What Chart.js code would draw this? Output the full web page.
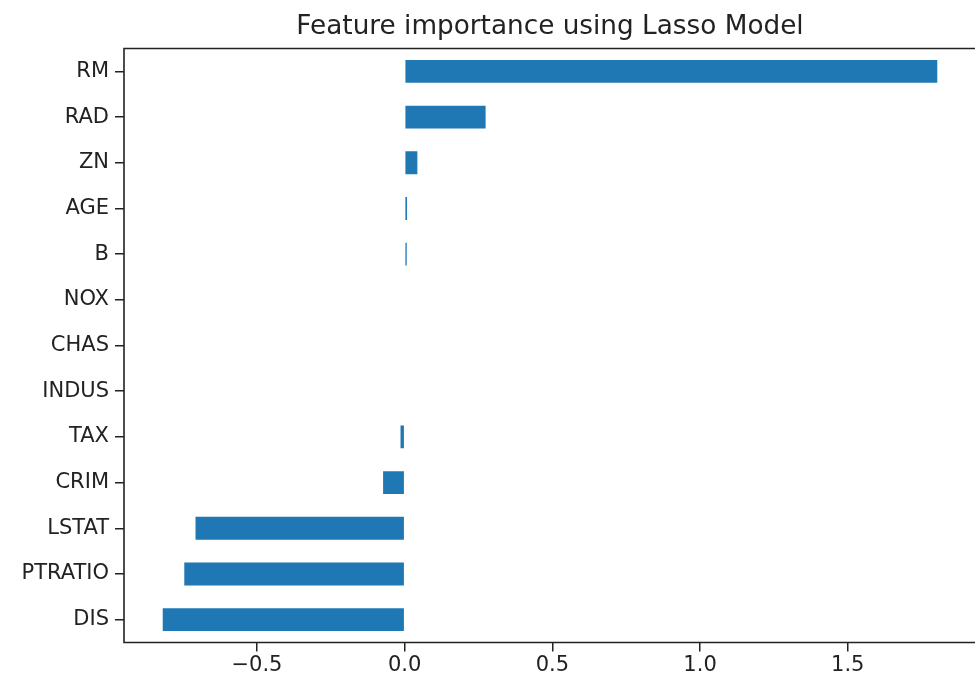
<!DOCTYPE html>
<html>
<head>
<meta charset="utf-8">
<script src="https://cdn.jsdelivr.net/npm/chart.js@4.4.1/dist/chart.umd.min.js"></script>
<style>
  html, body { margin: 0; padding: 0; background: #fff; overflow: hidden; }
  #wrap { width: 980px; height: 678px; position: relative; }
</style>
</head>
<body>
<div id="wrap"><canvas id="lasso"></canvas></div>
<script>
const features = ["RM", "RAD", "ZN", "AGE", "B", "NOX", "CHAS", "INDUS", "TAX", "CRIM", "LSTAT", "PTRATIO", "DIS"];
const coefs = [1.803, 0.274, 0.043, 0.008, 0.007, 0, 0, 0, -0.014, -0.073, -0.708, -0.746, -0.819];
const xTicks = [-0.5, 0.0, 0.5, 1.0, 1.5];

const ink = "#222";
const barBlue = "#1f77b4";

// matplotlib-like 5% margins on the value axis
const lo = Math.min(...coefs), hi = Math.max(...coefs);
const pad = (hi - lo) * 0.05;

// spines: top, left, bottom (the right one falls just outside the picture)
const frame = {
    id: "frame",
    afterDatasetsDraw(chart) {
        const { ctx, chartArea: a } = chart;
        ctx.save();
        ctx.strokeStyle = ink;
        ctx.lineWidth = 1.6;
        ctx.beginPath();
        ctx.moveTo(a.right + 2, a.top);
        ctx.lineTo(a.left, a.top);
        ctx.lineTo(a.left, a.bottom);
        ctx.lineTo(a.right + 2, a.bottom);
        ctx.stroke();
        ctx.restore();
    }
};

const lassoCtx = document.getElementById("lasso").getContext("2d");

const lassoChart = new Chart(lassoCtx, {
    type: "bar",
    data: {
        labels: features,
        datasets: [{
            data: coefs,
            backgroundColor: barBlue,
            borderWidth: 0,
            categoryPercentage: 1.0,
            barPercentage: 0.5
        }]
    },
    options: {
        indexAxis: "y",
        responsive: true,
        maintainAspectRatio: false,
        animation: false,
        layout: { padding: { left: 0, right: 4, top: 0, bottom: 0 } },
        plugins: {
            legend: { display: false },
            tooltip: { enabled: false },
            title: {
                display: true,
                text: "Feature importance using Lasso Model",
                fullSize: false,
                color: ink,
                font: { family: "DejaVu Sans", size: 26.3, weight: "normal", lineHeight: 1.2 },
                padding: { top: 11, bottom: 6 }
            }
        },
        scales: {
            x: {
                type: "linear",
                min: lo - pad,
                max: hi + pad,
                afterBuildTicks: (axis) => {
                    axis.ticks = xTicks.map(v => ({ value: v }));
                },
                afterFit: (scale) => { scale.height = 35.5; },
                border: { display: false },
                grid: {
                    drawOnChartArea: false,
                    drawTicks: true,
                    tickLength: 9,
                    color: ink,
                    lineWidth: 1.5
                },
                ticks: {
                    color: ink,
                    padding: 1,
                    maxRotation: 0,
                    font: { family: "DejaVu Sans", size: 21 },
                    callback: (v) => (v < 0 ? "\u2212" : "") + Math.abs(v).toFixed(1)
                }
            },
            y: {
                afterFit: (scale) => { scale.width = 124; },
                border: { display: false },
                grid: {
                    offset: false,
                    drawOnChartArea: false,
                    drawTicks: true,
                    tickLength: 9,
                    color: ink,
                    lineWidth: 1.5
                },
                ticks: {
                    color: ink,
                    padding: 6,
                    font: { family: "DejaVu Sans", size: 21 }
                }
            }
        }
    },
    plugins: [frame]
});
</script>
</body>
</html>
